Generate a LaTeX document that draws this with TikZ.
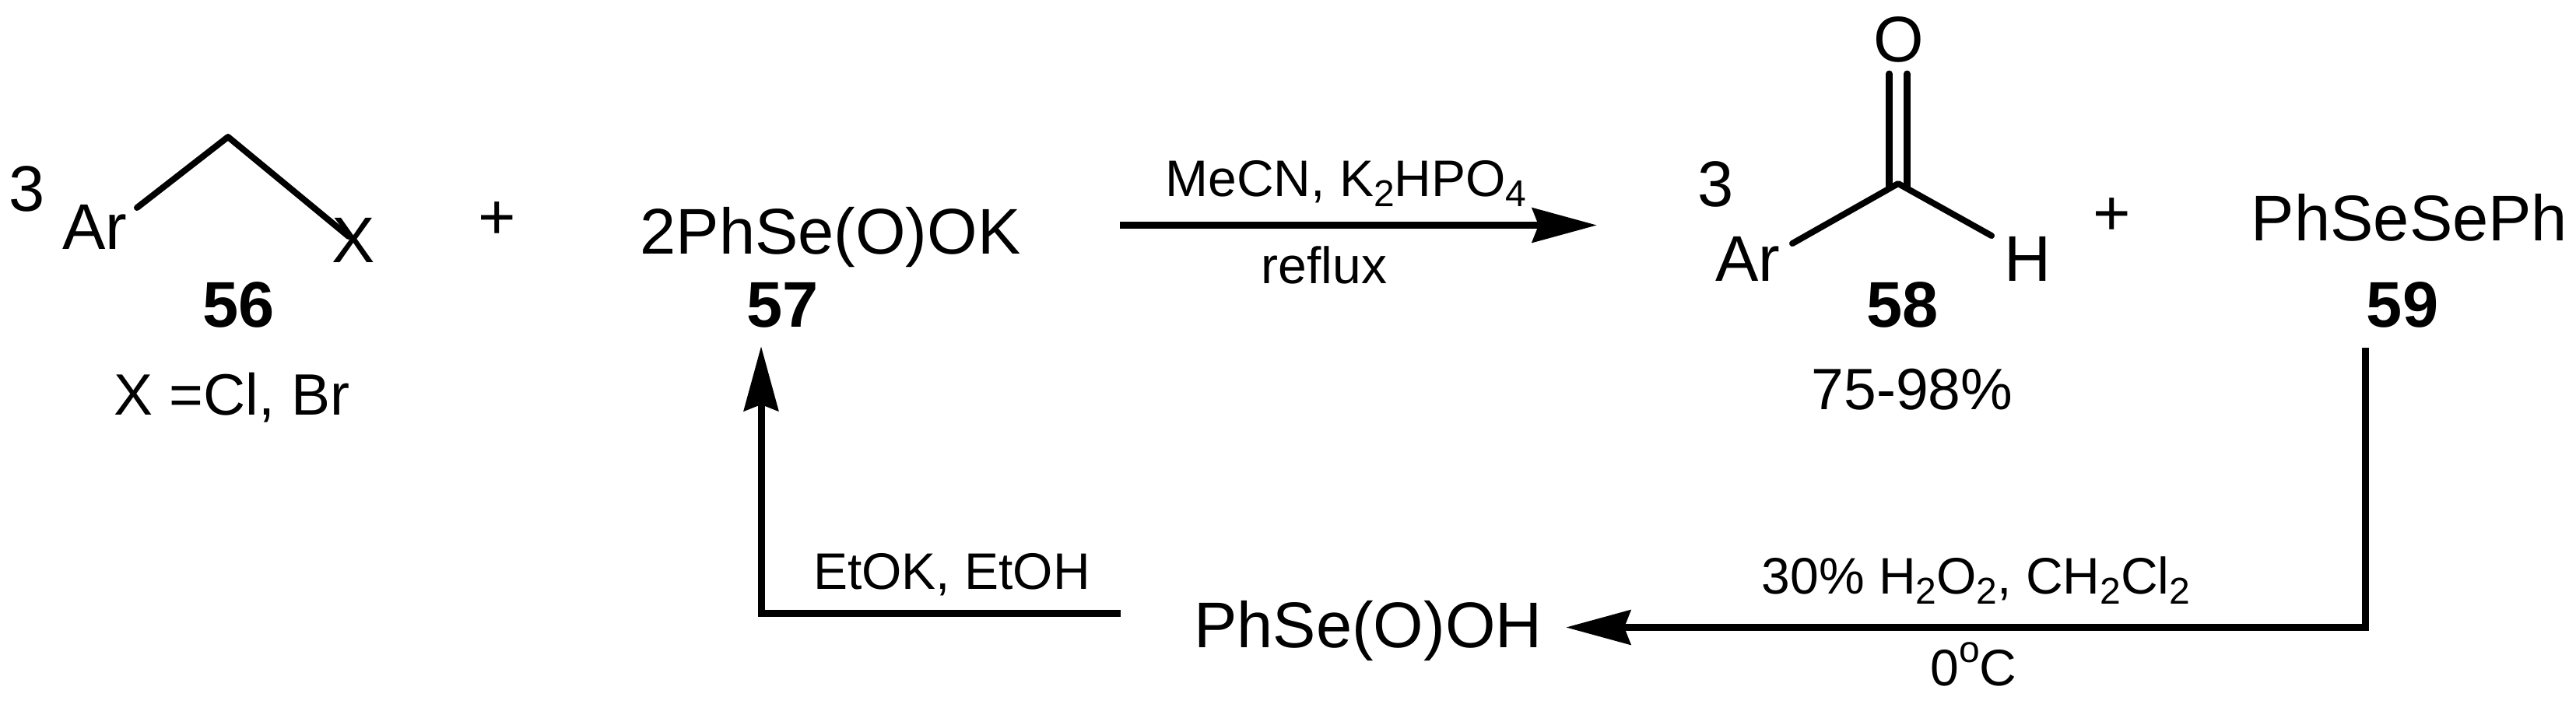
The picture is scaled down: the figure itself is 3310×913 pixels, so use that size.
\documentclass[tikz,border=0pt]{standalone}
\usepackage{fontspec}
\setmainfont{Liberation Sans}
\usetikzlibrary{arrows.meta}
\newcommand\bigsz{\fontsize{83}{83}\selectfont}
\newcommand\midsz{\fontsize{75}{75}\selectfont}
\newcommand\smlsz{\fontsize{66}{66}\selectfont}
\newcommand\subs[1]{\raisebox{-.2em}{\fontsize{48}{48}\selectfont #1}}
\newcommand\sups[1]{\raisebox{.44em}{\fontsize{48}{48}\selectfont #1}}
\tikzset{
  lab/.style={inner sep=0pt,outer sep=0pt,anchor=base,text=black},
  big/.style={lab,font=\bigsz},
  mid/.style={lab,font=\midsz},
  sml/.style={lab,font=\smlsz},
  cpd/.style={lab,font=\bigsz\bfseries},
  bond/.style={draw=black,line width=8pt,line cap=round,line join=round},
  rxn/.style={draw=black,line width=9pt,line join=miter,-{Stealth[length=83pt,width=44pt,inset=8pt]}}
}
\begin{document}
\begin{tikzpicture}[x=1pt,y=-1pt]
\useasboundingbox (0,0) rectangle (3310,913);
\fill[white] (0,0) rectangle (3310,913);
% compound 56
\node[big] (three1) at (35,271) {3};
\node[big] (ar1) at (121.5,320) {Ar};
\node[big] (x1) at (454,337) {X};
\coordinate (a1) at (176,267);
\coordinate (a2) at (293,176);
\coordinate (a3) at (448,304);
\draw[bond] (a1) -- (a2) -- (a3);
\node[cpd] (n56) at (306.5,420) {56};
\node[mid] (xeq) at (298,533) {X =Cl, Br};
\node[big] (plus1) at (639,307) {+};
% compound 57
\node[big] (c57) at (1067,326) {2PhSe(O)OK};
\node[cpd] (n57) at (1005.5,420) {57};
% top arrow
\coordinate (t1) at (1439,289.5);
\coordinate (t2) at (2052,289.5);
\draw[rxn] (t1) -- (t2);
\node[sml] (mecn) at (1729.5,252) {MeCN, K\subs{2}HPO\subs{4}};
\node[sml] (reflux) at (1701.5,364) {reflux};
% compound 58
\node[big] (o58) at (2440,79) {O};
\node[big] (three2) at (2205,265) {3};
\node[big] (ar2) at (2246,361) {Ar};
\node[big] (h58) at (2605,361) {H};
\coordinate (c58) at (2439,236);
\coordinate (b1) at (2303,313);
\coordinate (b2) at (2559,303);
\coordinate (d1a) at (2427.5,95);
\coordinate (d1b) at (2427.5,240);
\coordinate (d2a) at (2450.5,95);
\coordinate (d2b) at (2450.5,240);
\draw[bond] (b1) -- (c58) -- (b2);
\draw[bond,line width=9pt] (d1a) -- (d1b);
\draw[bond,line width=9pt] (d2a) -- (d2b);
\node[cpd] (n58) at (2444.5,420) {58};
\node[mid] (yield) at (2457,526) {75-98\%};
\node[big] (plus2) at (2714,302) {+};
% compound 59
\node[big] (c59) at (3096,309) {PhSeSePh};
\node[cpd] (n59) at (3087,420) {59};
% lower right connector
\coordinate (r1) at (3039,447);
\coordinate (r2) at (3039,806.5);
\coordinate (r3) at (2012,806.5);
\draw[rxn] (r1) -- (r2) -- (r3);
\node[sml] (h2o2) at (2539,763) {30\% H\subs{2}O\subs{2}, CH\subs{2}Cl\subs{2}};
\node[sml] (zero) at (2536,881) {0\sups{o}C};
\node[big] (acid) at (1758,832) {PhSe(O)OH};
% lower left connector
\coordinate (l1) at (1440,788);
\coordinate (l2) at (978,788);
\coordinate (l3) at (978,445);
\draw[rxn] (l1) -- (l2) -- (l3);
\node[sml] (etok) at (1223,757) {EtOK, EtOH};
\end{tikzpicture}
\end{document}
